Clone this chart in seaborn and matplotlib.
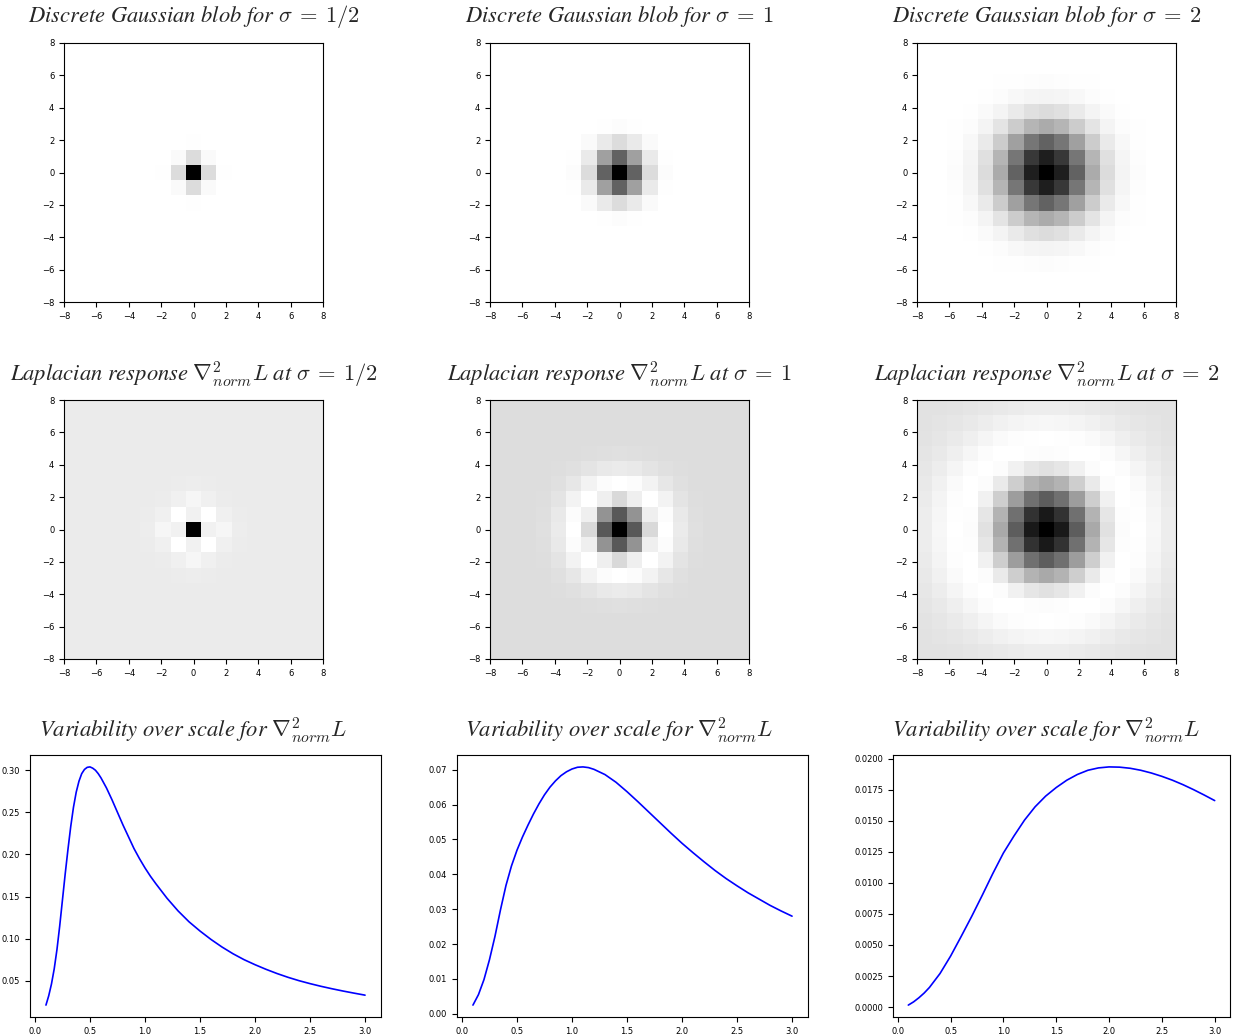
import numpy as np
import matplotlib
matplotlib.use("Agg")
import matplotlib.pyplot as plt
from matplotlib.ticker import MultipleLocator
import seaborn as sns

# ---------------------------------------------------------------- data
scale_labels = ["1/2", "1", "2"]

# Separable blob profiles along one axis (offsets 0..8, centre = 1)
blob_profile_half = [1.0, 0.14, 0.005, 0.0002, 0.0, 0.0, 0.0, 0.0, 0.0]
blob_profile_one = [1.0, 0.61, 0.14, 0.012, 0.0004, 0.0, 0.0, 0.0, 0.0]
blob_profile_two = [1.0, 0.88, 0.61, 0.33, 0.14, 0.045, 0.012, 0.0025, 0.0004]

# Relative Laplacian response, one quadrant (rows = |y| 0..8, cols = |x| 0..8)
lap_quadrant_half = [
    [1.0, -0.025, -0.046, -0.007, -0.0006, 0.0, 0.0, 0.0, 0.0],
    [-0.025, -0.087, -0.020, -0.0025, -0.0002, 0.0, 0.0, 0.0, 0.0],
    [-0.046, -0.020, -0.0037, -0.0004, 0.0, 0.0, 0.0, 0.0, 0.0],
    [-0.007, -0.0025, -0.0004, 0.0, 0.0, 0.0, 0.0, 0.0, 0.0],
    [-0.0006, -0.0002, 0.0, 0.0, 0.0, 0.0, 0.0, 0.0, 0.0],
    [0.0, 0.0, 0.0, 0.0, 0.0, 0.0, 0.0, 0.0, 0.0],
    [0.0, 0.0, 0.0, 0.0, 0.0, 0.0, 0.0, 0.0, 0.0],
    [0.0, 0.0, 0.0, 0.0, 0.0, 0.0, 0.0, 0.0, 0.0],
    [0.0, 0.0, 0.0, 0.0, 0.0, 0.0, 0.0, 0.0, 0.0],
]
lap_quadrant_one = [
    [1.0, 0.60, 0.02, -0.152, -0.063, -0.012, -0.001, 0.0, 0.0],
    [0.60, 0.33, -0.082, -0.142, -0.053, -0.010, -0.001, 0.0, 0.0],
    [0.02, -0.082, -0.156, -0.100, -0.031, -0.005, -0.0005, 0.0, 0.0],
    [-0.152, -0.142, -0.100, -0.045, -0.012, -0.002, 0.0, 0.0, 0.0],
    [-0.063, -0.053, -0.031, -0.012, -0.003, -0.0004, 0.0, 0.0, 0.0],
    [-0.012, -0.010, -0.005, -0.002, -0.0004, 0.0, 0.0, 0.0, 0.0],
    [-0.001, -0.001, -0.0005, 0.0, 0.0, 0.0, 0.0, 0.0, 0.0],
    [0.0, 0.0, 0.0, 0.0, 0.0, 0.0, 0.0, 0.0, 0.0],
    [0.0, 0.0, 0.0, 0.0, 0.0, 0.0, 0.0, 0.0, 0.0],
]
lap_quadrant_two = [
    [1.0, 0.881, 0.584, 0.249, 0.0, -0.118, -0.132, -0.097, -0.055],
    [0.881, 0.772, 0.503, 0.201, -0.022, -0.123, -0.130, -0.093, -0.053],
    [0.584, 0.503, 0.303, 0.083, -0.072, -0.133, -0.123, -0.084, -0.046],
    [0.249, 0.201, 0.083, -0.041, -0.118, -0.134, -0.109, -0.070, -0.037],
    [0.0, -0.022, -0.072, -0.118, -0.135, -0.121, -0.087, -0.053, -0.027],
    [-0.118, -0.123, -0.133, -0.134, -0.121, -0.093, -0.062, -0.036, -0.018],
    [-0.132, -0.130, -0.123, -0.109, -0.087, -0.062, -0.039, -0.021, -0.010],
    [-0.097, -0.093, -0.084, -0.070, -0.053, -0.036, -0.021, -0.011, -0.005],
    [-0.055, -0.053, -0.046, -0.037, -0.027, -0.018, -0.010, -0.005, -0.002],
]

# Centre response of the scale-normalised Laplacian over scale sigma
sigma_half = [0.100, 0.125, 0.150, 0.175, 0.200, 0.225, 0.250, 0.275, 0.300, 0.325,
              0.350, 0.375, 0.400, 0.425, 0.450, 0.475, 0.500, 0.525, 0.550, 0.575,
              0.600, 0.650, 0.700, 0.750, 0.800, 0.850, 0.900, 0.950, 1.000, 1.050,
              1.100, 1.200, 1.300, 1.400, 1.500, 1.600, 1.700, 1.800, 1.900, 2.000,
              2.100, 2.200, 2.300, 2.400, 2.500, 2.600, 2.700, 2.800, 2.900, 3.000]
response_half = [0.021, 0.032, 0.046, 0.064, 0.087, 0.115, 0.146, 0.177, 0.206, 0.233,
                 0.256, 0.274, 0.287, 0.296, 0.301, 0.3035, 0.304, 0.3025, 0.300, 0.296,
                 0.291, 0.279, 0.265, 0.250, 0.235, 0.221, 0.207, 0.195, 0.184, 0.174,
                 0.165, 0.148, 0.133, 0.120, 0.109, 0.099, 0.090, 0.082, 0.075, 0.069,
                 0.0635, 0.0585, 0.054, 0.050, 0.0465, 0.0433, 0.0404, 0.0377, 0.0352, 0.0328]

sigma_one = [0.10, 0.15, 0.20, 0.25, 0.30, 0.35, 0.40, 0.45, 0.50, 0.55,
             0.60, 0.65, 0.70, 0.75, 0.80, 0.85, 0.90, 0.95, 1.00, 1.05,
             1.10, 1.15, 1.20, 1.30, 1.40, 1.50, 1.60, 1.70, 1.80, 1.90,
             2.00, 2.10, 2.20, 2.30, 2.40, 2.50, 2.60, 2.70, 2.80, 2.90, 3.00]
response_one = [0.0025, 0.0055, 0.0098, 0.0155, 0.0222, 0.0298, 0.0368, 0.0424, 0.0469, 0.0507,
                0.0541, 0.0573, 0.0602, 0.0628, 0.0650, 0.0668, 0.0683, 0.0694, 0.0702, 0.0707,
                0.0708, 0.0706, 0.0701, 0.0686, 0.0664, 0.0637, 0.0608, 0.0578, 0.0548, 0.0518,
                0.0489, 0.0462, 0.0436, 0.0411, 0.0388, 0.0367, 0.0347, 0.0329, 0.0311, 0.0295,
                0.0280]

sigma_two = [0.10, 0.15, 0.20, 0.25, 0.30, 0.40, 0.50, 0.60, 0.70, 0.80,
             0.90, 1.00, 1.10, 1.20, 1.30, 1.40, 1.50, 1.60, 1.70, 1.80,
             1.90, 2.00, 2.10, 2.20, 2.30, 2.40, 2.50, 2.60, 2.70, 2.80,
             2.90, 3.00]
response_two = [0.00016, 0.00042, 0.00075, 0.00113, 0.00158, 0.0027, 0.0041, 0.00568, 0.0073, 0.0090,
                0.01075, 0.0124, 0.01377, 0.01505, 0.01612, 0.01698, 0.01767, 0.01826, 0.01872, 0.01906,
                0.01925, 0.01933, 0.01931, 0.01922, 0.01906, 0.01884, 0.01857, 0.01826, 0.01790, 0.01750,
                0.01707, 0.01662]

# ---------------------------------------------------------------- style
sns.set_theme(context="paper", style="ticks", rc={
    "axes.edgecolor": "black",
    "axes.linewidth": 0.8,
    "xtick.color": "black",
    "ytick.color": "black",
    "xtick.labelsize": 6,
    "ytick.labelsize": 6,
    "xtick.major.size": 3.5,
    "ytick.major.size": 3.5,
    "xtick.major.width": 0.8,
    "ytick.major.width": 0.8,
    "axes.spines.top": True,
    "axes.spines.right": True,
})
plt.rcParams["font.family"] = ["DejaVu Sans"]
plt.rcParams["mathtext.fontset"] = "cm"

W, H = 1240, 1036
fig = plt.figure(figsize=(W / 100, H / 100), dpi=100)


def add_axes_px(x0, y0, x1, y1):
    return fig.add_axes([x0 / W, 1 - y1 / H, (x1 - x0) / W, (y1 - y0) / H])


def title_px(text, xc, baseline):
    fig.text(xc / W, 1 - baseline / H, text, ha="center", va="baseline",
             fontsize=16.2, family="STIXGeneral", style="italic")


idx = np.abs(np.arange(-8, 9))
col_x = [64, 490, 917]
img_w = 259
col_centre = [x + img_w / 2 for x in col_x]

blob_profiles = [blob_profile_half, blob_profile_one, blob_profile_two]
lap_quadrants = [lap_quadrant_half, lap_quadrant_one, lap_quadrant_two]


def style_image_axes(ax):
    ax.set_xticks(np.arange(-8, 9, 2))
    ax.set_yticks(np.arange(-8, 9, 2))
    ax.set_xlim(-8, 8)
    ax.set_ylim(-8, 8)


# Row 1: Gaussian blobs
for k in range(3):
    p = np.asarray(blob_profiles[k])[idx]
    img = np.outer(p, p)
    ax = add_axes_px(col_x[k], 43, col_x[k] + img_w, 302)
    ax.imshow(img, cmap="gray_r", extent=[-8, 8, -8, 8], interpolation="nearest",
              origin="lower", aspect="auto")
    style_image_axes(ax)
    title_px(r"Discrete Gaussian blob for $\sigma\:=\:%s$" % scale_labels[k], col_centre[k], 22)

# Row 2: Laplacian responses
for k in range(3):
    q = np.asarray(lap_quadrants[k])
    img = q[np.ix_(idx, idx)]
    ax = add_axes_px(col_x[k], 400, col_x[k] + img_w, 659)
    ax.imshow(img, cmap="gray_r", extent=[-8, 8, -8, 8], interpolation="nearest",
              origin="lower", aspect="auto")
    style_image_axes(ax)
    title_px(r"Laplacian response $\nabla^2_{norm} L$ at $\sigma\:=\:%s$" % scale_labels[k],
             col_centre[k], 381)

# Row 3: variability over scale
curve_boxes = [(30, 381), (457, 808), (893, 1230)]
curves = [(sigma_half, response_half), (sigma_one, response_one), (sigma_two, response_two)]
y_steps = [0.05, 0.01, 0.0025]
for k in range(3):
    x0, x1 = curve_boxes[k]
    ax = add_axes_px(x0, 755, x1, 1017)
    sx, sy = curves[k]
    sns.lineplot(x=sx, y=sy, ax=ax, color="blue", linewidth=1.2, estimator=None)
    ax.xaxis.set_major_locator(MultipleLocator(0.5))
    ax.yaxis.set_major_locator(MultipleLocator(y_steps[k]))
    ax.margins(0.05)
    title_px(r"Variability over scale for $\nabla^2_{norm} L$", col_centre[k], 737)

fig.savefig("out.png", dpi=100)
